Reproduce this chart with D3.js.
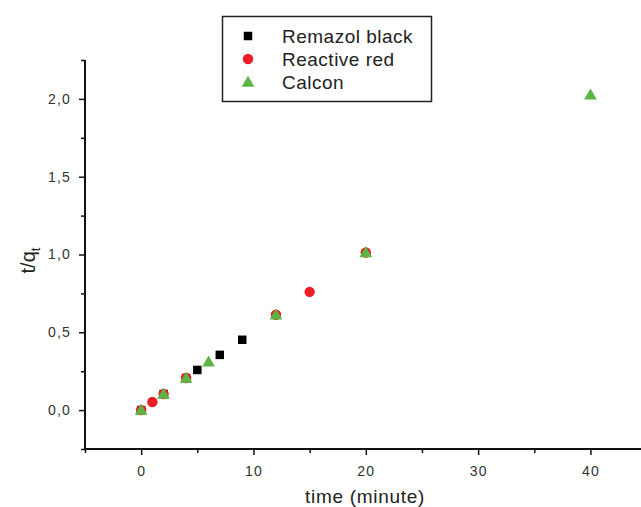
<!DOCTYPE html>
<html>
<head>
<meta charset="utf-8">
<script src="https://cdn.jsdelivr.net/npm/d3@7"></script>
<style>
  html, body { margin: 0; padding: 0; background: #fff; }
  svg { display: block; font-family: "Liberation Sans", Arial, sans-serif; }
</style>
</head>
<body>
<svg id="chart" width="641" height="507"></svg>
<script>
// Pseudo-second-order kinetics: t/qt versus contact time for three dyes
const remazolTime  = [0, 2, 4, 5, 7, 9];
const remazolValue = [0, 0.103, 0.206, 0.258, 0.355, 0.452];

const redTime  = [0, 1, 2, 4, 12, 15, 20];
const redValue = [0, 0.052, 0.103, 0.206, 0.613, 0.760, 1.013];

const calconTime  = [0, 2, 4, 6, 12, 20, 40];
const calconValue = [0, 0.103, 0.206, 0.310, 0.613, 1.013, 2.026];

const seriesNames = ["Remazol black", "Reactive red", "Calcon"];
const xMajorTicks = [0, 10, 20, 30, 40];
const xMinorTicks = [-5, 5, 15, 25, 35];
const yMajorTicks = [0, 0.5, 1.0, 1.5, 2.0];
const yMinorTicks = [-0.25, 0.25, 0.75, 1.25, 1.75, 2.25];

const svg = d3.select("#chart");
const margin = { left: 85, right: 0, top: 60, bottom: 58 };
const W = 641, H = 507;

const x = d3.scaleLinear().domain([-5, 44.5]).range([margin.left, W - margin.right]);
const y = d3.scaleLinear().domain([-0.25, 2.25]).range([H - margin.bottom, margin.top]);

const comma = v => d3.format(".1f")(v).replace(".", ",");
const axisColor = "#111";

// x axis: majors with labels, minors without
const gx = svg.append("g").attr("transform", `translate(0,${y(-0.25)})`);
gx.append("g").call(d3.axisBottom(x).tickValues(xMajorTicks).tickSize(6).tickPadding(11).tickFormat(d3.format("d")));
gx.append("g").call(d3.axisBottom(x).tickValues(xMinorTicks).tickSize(4).tickFormat(""));

// y axis
const gy = svg.append("g").attr("transform", `translate(${x(-5)},0)`);
gy.append("g").call(d3.axisLeft(y).tickValues(yMajorTicks).tickSize(6).tickPadding(8).tickFormat(comma));
gy.append("g").call(d3.axisLeft(y).tickValues(yMinorTicks).tickSize(4).tickFormat(""));

svg.selectAll(".domain").remove();
svg.selectAll(".tick line").attr("stroke", axisColor).attr("stroke-width", 1.5);
svg.selectAll(".tick text").attr("fill", "#333").attr("font-size", 14)
   .attr("letter-spacing", 1.2)
   .attr("font-family", "'Liberation Sans', Arial, sans-serif");

// axis lines
gx.append("line").attr("x1", x(-5) - 1).attr("x2", W).attr("y1", 0).attr("y2", 0)
  .attr("stroke", axisColor).attr("stroke-width", 2);
gy.append("line").attr("x1", 0).attr("x2", 0).attr("y1", y(2.25)).attr("y2", y(-0.25))
  .attr("stroke", axisColor).attr("stroke-width", 2);

// axis titles
svg.append("text")
  .attr("x", 365).attr("y", 503)
  .attr("text-anchor", "middle")
  .attr("font-size", 19).attr("letter-spacing", 0.7).attr("fill", "#222")
  .text("time (minute)");

const yt = svg.append("text")
  .attr("transform", `translate(35,${y(1.0) + 6}) rotate(-90)`)
  .attr("text-anchor", "middle")
  .attr("font-size", 20).attr("fill", "#222");
yt.append("tspan").text("t/q");
yt.append("tspan").attr("font-size", 13).attr("dy", 5).text("t");

// markers
const colors = ["#000000", "#ee1c24", "#5bb443"];
const symSquare = d3.symbol().type(d3.symbolSquare).size(72);
const symCircle = d3.symbol().type(d3.symbolCircle).size(85);
const symTri    = d3.symbol().type(d3.symbolTriangle).size(70);

const remazol = remazolTime.map((t, i) => ({ t, v: remazolValue[i] }));
const red     = redTime.map((t, i) => ({ t, v: redValue[i] }));
const calcon  = calconTime.map((t, i) => ({ t, v: calconValue[i] }));

svg.append("g").selectAll("path").data(remazol).join("path")
  .attr("d", symSquare).attr("fill", colors[0])
  .attr("transform", d => `translate(${x(d.t)},${y(d.v)})`);
svg.append("g").selectAll("path").data(red).join("path")
  .attr("d", symCircle).attr("fill", colors[1])
  .attr("transform", d => `translate(${x(d.t)},${y(d.v)})`);
svg.append("g").selectAll("path").data(calcon).join("path")
  .attr("d", symTri).attr("fill", colors[2])
  .attr("transform", d => `translate(${x(d.t)},${y(d.v) + 1})`);

// legend
const lg = svg.append("g");
lg.append("rect").attr("x", 222.5).attr("y", 16.5).attr("width", 209).attr("height", 85)
  .attr("fill", "#fff").attr("stroke", "#222").attr("stroke-width", 1.5);
const legendSyms = [symSquare, symCircle, symTri];
seriesNames.forEach((name, i) => {
  const cy = 36 + i * 23;
  lg.append("path").attr("d", legendSyms[i]).attr("fill", colors[i])
    .attr("transform", `translate(248,${cy + (i === 2 ? 1 : 0)})`);
  lg.append("text").attr("x", 282).attr("y", cy + 7)
    .attr("font-size", 19).attr("letter-spacing", 0.5).attr("fill", "#222").text(name);
});
</script>
</body>
</html>
